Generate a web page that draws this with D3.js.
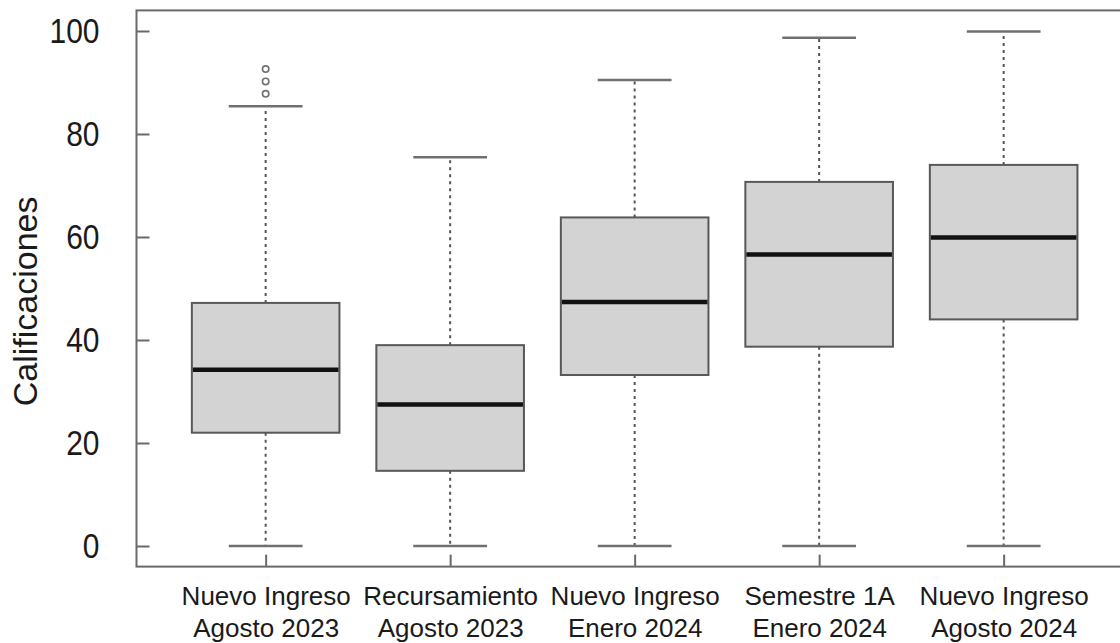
<!DOCTYPE html>
<html>
<head>
<meta charset="utf-8">
<script src="https://cdn.jsdelivr.net/npm/d3@7"></script>
<style>
  html, body { margin: 0; padding: 0; background: #fff; }
  svg { display: block; }
  text { font-family: "Liberation Sans", Arial, sans-serif; fill: #1a1a1a; }
</style>
</head>
<body>
<svg id="chart" width="1120" height="643"></svg>
<script>
// ---- data ----
const categoriesLine1 = ["Nuevo Ingreso", "Recursamiento", "Nuevo Ingreso", "Semestre 1A", "Nuevo Ingreso"];
const categoriesLine2 = ["Agosto 2023", "Agosto 2023", "Enero 2024", "Enero 2024", "Agosto 2024"];
const whiskerLow  = [0, 0, 0, 0, 0];
const q1          = [22.0, 14.6, 33.2, 38.7, 44.0];
const medians     = [34.2, 27.5, 47.4, 56.6, 59.9];
const q3          = [47.2, 39.0, 63.8, 70.7, 74.0];
const whiskerHigh = [85.4, 75.5, 90.5, 98.7, 99.9];
const outliers    = [[87.8, 90.2, 92.6], [], [], [], []];
const yTicks      = [0, 20, 40, 60, 80, 100];

const boxes = categoriesLine1.map((c, i) => ({
  idx: i + 1, lo: whiskerLow[i], q1: q1[i], med: medians[i], q3: q3[i], hi: whiskerHigh[i], out: outliers[i]
}));

const svg = d3.select("#chart");

// R-style scales: xlim 0.5..5.5 and ylim 0..100 each padded by 4%
const x = d3.scaleLinear().domain([0.3, 5.7]).range([136.5, 136.5 + 5.4 * 184.5]);
const y = d3.scaleLinear().domain([-4, 104]).range([566.6, 10.4]);

const boxW = x(1.4) - x(1.0);   // half box width (0.4 units)
const capW = x(1.2) - x(1.0);   // staple half-width (0.2 units)

const g = svg.append("g");

boxes.forEach(b => {
  const cx = x(b.idx);
  // whiskers (dotted)
  g.append("line").attr("x1", cx).attr("x2", cx).attr("y1", y(b.q3)).attr("y2", y(b.hi))
    .attr("stroke", "#555").attr("stroke-width", 2).attr("stroke-dasharray", "3,4");
  g.append("line").attr("x1", cx).attr("x2", cx).attr("y1", y(b.q1)).attr("y2", y(b.lo))
    .attr("stroke", "#555").attr("stroke-width", 2).attr("stroke-dasharray", "3,4");
  // staples
  [b.hi, b.lo].forEach(v => {
    g.append("line").attr("x1", cx - capW).attr("x2", cx + capW).attr("y1", y(v)).attr("y2", y(v))
      .attr("stroke", "#707070").attr("stroke-width", 2.5);
  });
  // box
  g.append("rect").attr("x", cx - boxW).attr("width", 2 * boxW)
    .attr("y", y(b.q3)).attr("height", y(b.q1) - y(b.q3))
    .attr("fill", "#d3d3d3").attr("stroke", "#585858").attr("stroke-width", 2);
  // median
  g.append("line").attr("x1", cx - boxW + 1).attr("x2", cx + boxW - 1).attr("y1", y(b.med)).attr("y2", y(b.med))
    .attr("stroke", "#111").attr("stroke-width", 4.5);
  // outliers
  b.out.forEach(v => {
    g.append("circle").attr("cx", cx).attr("cy", y(v)).attr("r", 3.2)
      .attr("fill", "none").attr("stroke", "#707070").attr("stroke-width", 1.6);
  });
});

// frame
svg.append("rect")
  .attr("x", x(0.3)).attr("y", y(104))
  .attr("width", x(5.7) - x(0.3)).attr("height", y(-4) - y(104))
  .attr("fill", "none").attr("stroke", "#6a6a6a").attr("stroke-width", 2);

// y axis (inward ticks)
const yAxis = svg.append("g").attr("transform", `translate(${x(0.3)},0)`)
  .call(d3.axisLeft(y).tickValues(yTicks).tickSizeInner(-13).tickSizeOuter(0).tickPadding(37));
yAxis.select(".domain").remove();
yAxis.selectAll(".tick line").attr("stroke", "#6a6a6a").attr("stroke-width", 2);
yAxis.selectAll(".tick text")
  .style("font-family", '"Liberation Sans", Arial, sans-serif')
  .style("font-size", "30px").attr("fill", "#1a1a1a")
  .attr("dy", null).attr("y", 0).attr("dominant-baseline", "central")
  .attr("transform", "scale(1,1.15)");

// x axis (inward ticks) with two-line labels
const xAxis = svg.append("g").attr("transform", `translate(0,${y(-4)})`)
  .call(d3.axisBottom(x).tickValues(boxes.map(b => b.idx)).tickSizeInner(-12).tickSizeOuter(0).tickFormat(""));
xAxis.select(".domain").remove();
xAxis.selectAll(".tick line").attr("stroke", "#6a6a6a").attr("stroke-width", 2);
xAxis.selectAll(".tick text").remove();
xAxis.selectAll(".tick").each(function(d, i) {
  const t = d3.select(this).append("text")
    .attr("text-anchor", "middle")
    .style("font-size", "26px")
    .attr("fill", "#1a1a1a");
  t.append("tspan").attr("x", 0).attr("y", 38).text(categoriesLine1[i]);
  t.append("tspan").attr("x", 0).attr("y", 70).text(categoriesLine2[i]);
});

// y axis title
svg.append("text")
  .attr("transform", `translate(37,${y(47.5)}) rotate(-90)`)
  .attr("text-anchor", "middle")
  .style("font-size", "34px")
  .attr("fill", "#1a1a1a")
  .text("Calificaciones");
</script>
</body>
</html>
